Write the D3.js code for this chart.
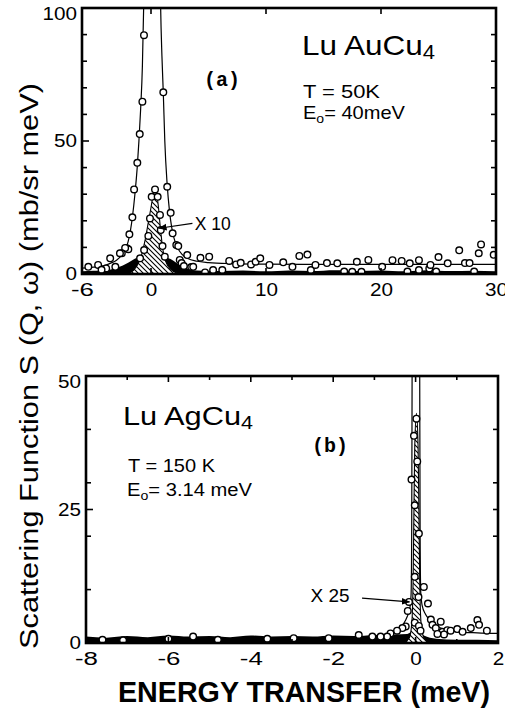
<!DOCTYPE html>
<html>
<head>
<meta charset="utf-8">
<script src="https://cdn.jsdelivr.net/npm/d3@7"></script>
<style>
  body { margin: 0; background: #fff; }
  svg { display: block; }
</style>
</head>
<body>
<script>
// ---------- Panel (a): LuAuCu4, T = 50 K, E0 = 40 meV ----------
const aXTicks = [-6, 0, 10, 20, 30];
const aYTicks = [0, 50, 100];

// measured S(Q,w), open circles
const aData = [
  [-0.61, 89.8], [-0.75, 64.8], [-0.98, 52.6], [-1.19, 41.8], [-1.47, 31.8],
  [-1.62, 21.3], [-1.88, 14.9], [-2.1, 9.7], [-1.97, 9.3], [-2.25, 9.8],
  [-2.54, 7.8], [-2.7, 7.8], [-3.1, 2.7], [-3.55, 5.9], [-3.9, 2.1], [-4.6, 3.4],
  [-5.45, 2.7], [-4.3, 1.6],
  [1.07, 68.3], [1.41, 32.8], [1.71, 23.0], [1.88, 15.3], [2.2, 10.9],
  [2.37, 10.5], [2.5, 5.3], [2.66, 4.1], [2.86, 3.0], [3.15, 7.1], [3.5, 2.6],
  [3.67, 2.7], [4.3, 6.1], [5.06, 6.5],
  [4.7, 0.6], [5.4, 1.5], [6.2, 1.5], [6.8, 4.9], [7.4, 3.6], [7.8, 4.2],
  [8.7, 3.6], [9.1, 4.6], [9.5, 5.9], [10.3, 3.4], [11.5, 4.4], [12.3, 2.7],
  [12.9, 6.8], [13.6, 7.3], [13.9, 1.5], [14.3, 3.4], [15.3, 4.1], [16.2, 4.0],
  [16.8, 0.9], [17.5, 0.8], [17.9, 4.6], [18.3, 0.8], [18.9, 5.3], [20.1, 2.7],
  [21.0, 5.2], [21.8, 4.9], [22.3, 0.9], [22.5, 4.0], [23.3, 5.2], [23.3, 1.5],
  [24.2, 2.1], [24.3, 3.4], [24.8, 0.9], [25.0, 6.4], [25.8, 4.0], [26.8, 8.9],
  [27.3, 4.1], [27.7, 4.1], [28.1, 0.9], [28.5, 7.8], [28.7, 11.1], [29.8, 7.2]
];

// circles on the quasielastic (x10) peak
const aQuasiData = [
  [0.35, 31.8], [0.06, 29.0], [0.58, 29.0], [-0.09, 20.9], [0.78, 22.2],
  [-0.23, 14.3], [0.85, 16.5], [-0.6, 9.0], [1.0, 10.5], [-0.95, 5.9], [1.2, 6.5]
];

// fitted total line
const aFit = [
  [-6, 2.2], [-5, 2.6], [-4, 3.3], [-3.5, 4.1], [-3, 5.2], [-2.6, 6.8],
  [-2.3, 8.8], [-2.0, 12], [-1.8, 16], [-1.6, 22], [-1.4, 30], [-1.2, 40],
  [-1.05, 50], [-0.9, 62], [-0.75, 78], [-0.64, 100], [-0.5, 140], [-0.2, 250],
  [0.1, 300], [0.45, 250], [0.72, 140], [0.84, 100], [0.95, 82], [1.07, 68],
  [1.2, 50], [1.4, 34], [1.6, 24], [1.8, 17.5], [2.0, 13.5], [2.3, 10],
  [2.7, 7.4], [3.2, 5.8], [4, 4.8], [5, 4.3], [7, 3.9], [10, 3.7], [15, 3.6],
  [22, 3.6], [30, 3.6]
];

// quasielastic component (hatched)
const aQuasi = [
  [-2.0, 0], [-1.5, 1.5], [-1.1, 4], [-0.8, 7.5], [-0.5, 13], [-0.25, 19],
  [0.0, 25], [0.2, 30], [0.35, 31.5], [0.5, 30], [0.65, 25], [0.8, 18],
  [0.95, 12], [1.1, 7.5], [1.35, 4], [1.7, 1.8], [2.2, 0.5], [3, 0]
];

// broad component (solid black)
const aBroad = [
  [-6, 1.0], [-5, 1.2], [-4.2, 1.3], [-3.5, 1.7], [-2.8, 2.6], [-2.2, 3.8],
  [-1.7, 5.0], [-1.2, 6.2], [-0.6, 6.8], [0, 7.0], [0.6, 6.8], [1.2, 6.4],
  [1.7, 5.6], [2.2, 4.2], [2.7, 2.8], [3.3, 1.8], [4, 1.3], [6, 1.1],
  [8, 1.3], [10, 1.0], [12, 1.3], [14, 1.1], [16, 1.4], [18, 1.1], [20, 1.3],
  [22, 1.0], [24, 1.4], [26, 1.1], [28, 1.2], [30, 1.0]
];

// ---------- Panel (b): LuAgCu4, T = 150 K, E0 = 3.14 meV ----------
const bXTicks = [-8, -6, -4, -2, 0, 2];
const bYTicks = [0, 25, 50];

const bData = [
  [0.02, 42], [-0.04, 38.8], [0.04, 34], [-0.1, 30.6], [-0.02, 25.8],
  [0.08, 20.5], [-0.02, 12.4], [0.2, 10.5], [0.07, 8.6], [-0.16, 7.7],
  [-0.19, 6.0], [0.3, 7.4], [0.37, 4.4], [-0.02, 3.8], [0.08, 3.2], [0.12, 2.3],
  [-0.24, 3.1], [-0.32, 2.8], [-0.45, 2.3], [0.41, 3.4], [0.61, 4.0],
  [0.49, 2.8], [0.65, 2.1], [0.77, 2.4], [0.85, 2.3], [1.01, 2.6], [1.14, 2.1],
  [1.34, 2.8], [1.5, 4.3], [1.54, 3.4], [1.73, 2.3], [0.69, 1.6], [0.53, 1.7],
  [-0.61, 1.8], [-0.69, 1.2], [-0.85, 1.2], [-1.05, 1.2], [-1.38, 1.5],
  [-2.11, 0.9], [-2.96, 0.9], [-3.6, 0.8], [-4.8, 0.6], [-5.4, 1.2],
  [-6.0, 0.8], [-7.1, 0.5], [-7.6, 0.6]
];

// fitted total line
const bFit = [
  [-8, 0.6], [-6, 0.7], [-4, 0.8], [-2, 0.9], [-1.2, 1.1], [-0.8, 1.3],
  [-0.6, 1.6], [-0.45, 2.4], [-0.3, 3.5], [-0.2, 5], [-0.14, 6.5],
  [-0.11, 9], [-0.095, 20], [-0.085, 50], [-0.06, 120], [0.01, 200],
  [0.08, 120], [0.1, 50], [0.11, 20], [0.125, 9.5], [0.16, 7], [0.24, 5.4],
  [0.35, 4.3], [0.5, 3.3], [0.7, 2.5], [1.0, 2.1], [1.5, 1.9], [2, 1.8]
];

// quasielastic component (hatched)
const bQuasi = [
  [-0.3, 0], [-0.15, 1], [-0.09, 4], [-0.06, 12], [-0.04, 25], [-0.02, 37],
  [0.02, 43], [0.06, 37], [0.08, 25], [0.1, 12], [0.13, 4], [0.2, 1], [0.35, 0]
];

// broad component (solid black)
const bBroad = [
  [-8, 1.2], [-7.5, 1.0], [-7, 1.3], [-6.5, 1.1], [-6, 1.4], [-5.5, 1.2],
  [-5, 1.3], [-4.5, 1.1], [-4, 1.4], [-3.5, 1.2], [-3, 1.3], [-2.5, 1.2],
  [-2, 1.4], [-1.5, 1.3], [-1, 1.5], [-0.5, 1.6], [-0.2, 1.7], [0, 2.6],
  [0.2, 1.4], [0.5, 0.8], [1, 0.6], [1.5, 0.6], [2, 0.5]
];

// ---------- drawing ----------
const W = 505, H = 710;
const svg = d3.select("body").append("svg").attr("width", W).attr("height", H);
const FONT = "'Liberation Sans', Arial, Helvetica, sans-serif";

const defs = svg.append("defs");
const pat = defs.append("pattern").attr("id", "hatch")
  .attr("patternUnits", "userSpaceOnUse").attr("width", 5).attr("height", 5);
pat.append("rect").attr("width", 5).attr("height", 5).attr("fill", "#fff");
pat.append("path").attr("d", "M-1,-1 L6,6 M-1,4 L1,6 M4,-1 L6,1")
  .attr("stroke", "#000").attr("stroke-width", 1.1);

defs.append("marker").attr("id", "arrow").attr("viewBox", "0 0 10 10")
  .attr("refX", 9).attr("refY", 5).attr("markerWidth", 7).attr("markerHeight", 7)
  .attr("orient", "auto-start-reverse")
  .append("path").attr("d", "M0,1 L10,5 L0,9 Z").attr("fill", "#000");

function label(g, x, y, parts, size, length, opts = {}) {
  const t = g.append("text").attr("x", x).attr("y", y)
    .attr("font-family", opts.family || FONT)
    .attr("font-size", size)
    .attr("font-weight", opts.weight || "normal")
    .attr("text-anchor", opts.anchor || "start")
    .attr("fill", "#000");
  parts.forEach(p => {
    const s = t.append("tspan").text(p.t);
    if (p.sub) s.attr("font-size", size * 0.7).attr("dy", p.dy);
    if (p.back) s.attr("dy", p.back);
  });
  if (length) t.attr("textLength", length).attr("lengthAdjust", "spacingAndGlyphs");
  return t;
}

function panel(cfg) {
  const x = d3.scaleLinear().domain(cfg.xDomain).range(cfg.xRange);
  const y = d3.scaleLinear().domain(cfg.yDomain).range(cfg.yRange);
  const g = svg.append("g");
  const [x0, x1] = cfg.xRange, [y0, y1] = cfg.yRange; // y0 bottom, y1 top

  const clipId = "clip-" + cfg.id;
  defs.append("clipPath").attr("id", clipId).append("rect")
    .attr("x", x0).attr("y", y1).attr("width", x1 - x0).attr("height", y0 - y1);
  const plot = g.append("g").attr("clip-path", `url(#${clipId})`);

  const area = d3.area().x(d => x(d[0])).y0(y(0)).y1(d => y(d[1])).curve(d3.curveMonotoneX);
  const line = d3.line().x(d => x(d[0])).y(d => y(d[1])).curve(d3.curveMonotoneX);

  plot.append("path").datum(cfg.broad).attr("d", area).attr("fill", "#000");
  plot.append("path").datum(cfg.quasi).attr("d", area)
    .attr("fill", "url(#hatch)").attr("stroke", "#000").attr("stroke-width", 1.1);
  plot.append("path").datum(cfg.fit).attr("d", line)
    .attr("fill", "none").attr("stroke", "#000").attr("stroke-width", 1.2);

  const pts = cfg.data.concat(cfg.extra || []);
  plot.selectAll("circle.d").data(pts).enter().append("circle")
    .attr("cx", d => x(d[0])).attr("cy", d => y(d[1])).attr("r", 3.3)
    .attr("fill", "#fff").attr("stroke", "#000").attr("stroke-width", 1.4);

  // axes with inward ticks on all sides
  const axes = g.append("g").attr("stroke", "#000");
  const tick = (x1_, y1_, x2_, y2_) => axes.append("line")
    .attr("x1", x1_).attr("y1", y1_).attr("x2", x2_).attr("y2", y2_).attr("stroke-width", 1.6);
  cfg.xMinor.forEach(v => {
    const L = cfg.xMajor.includes(v) ? 6 : 4;
    tick(x(v), y1, x(v), y1 + L);
    tick(x(v), y0, x(v), y0 - L);
  });
  cfg.yMinor.forEach(v => {
    const L = cfg.yMajor.includes(v) ? 7 : 5;
    tick(x0, y(v), x0 + L, y(v));
    tick(x1, y(v), x1 - 5, y(v));
  });
  g.append("rect").attr("x", x0).attr("y", y1).attr("width", x1 - x0).attr("height", y0 - y1)
    .attr("fill", "none").attr("stroke", "#000").attr("stroke-width", 2.6);

  // tick labels from d3 axes
  const bottom = d3.axisBottom(x).tickValues(cfg.xTicks).tickSize(0).tickPadding(0).tickFormat(d3.format("d"));
  const gb = g.append("g").attr("transform", `translate(0,${y0 + 9})`).call(bottom);
  gb.select(".domain").remove();
  gb.selectAll("text").attr("font-family", FONT).attr("font-size", 18).attr("fill", "#000")
    .attr("dy", "0.72em").attr("textLength", d => String(d).length * 11.5)
    .attr("lengthAdjust", "spacingAndGlyphs").text(d => String(d).replace("\u2212", "-"));
  const left = d3.axisLeft(y).tickValues(cfg.yTicks).tickSize(0).tickPadding(0).tickFormat(d3.format("d"));
  const gl = g.append("g").attr("transform", `translate(${x0 - 5},0)`).call(left);
  gl.select(".domain").remove();
  gl.selectAll("text").attr("font-family", FONT).attr("font-size", 18).attr("fill", "#000")
    .attr("textLength", d => String(d).length * 11.5).attr("lengthAdjust", "spacingAndGlyphs")
    .attr("dy", d => (y(d) - y1 < 8 ? "0.62em" : "0.32em"));

  return { g, x, y };
}

// panel (a)
const A = panel({
  id: "a", xDomain: [-6, 30], xRange: [82, 496], yDomain: [0, 100], yRange: [274, 8],
  xTicks: aXTicks, yTicks: aYTicks,
  xMinor: [0, 10, 20], xMajor: [0, 10, 20],
  yMinor: [10, 20, 30, 40, 50, 60, 70, 80, 90], yMajor: [50],
  data: aData, extra: aQuasiData, fit: aFit, quasi: aQuasi, broad: aBroad
});
label(A.g, 302, 55, [{t: "Lu AuCu"}, {t: "4", sub: true, dy: 4}], 28, 133);
label(A.g, 303, 98, [{t: "T = 50K"}], 19, 77);
label(A.g, 303, 119, [{t: "E"}, {t: "o", sub: true, dy: 4}, {t: "= 40meV", back: -4}], 19, 102);
label(A.g, 222, 86, [{t: "(a)"}], 20, 36, {family: "'Liberation Mono', 'DejaVu Sans Mono', monospace", weight: "bold", anchor: "middle"});
label(A.g, A.x(3.8), A.y(16.5), [{t: "X 10"}], 19, 36);
A.g.append("line").attr("x1", A.x(3.6)).attr("y1", A.y(19)).attr("x2", A.x(0.7)).attr("y2", A.y(17.2))
  .attr("stroke", "#000").attr("stroke-width", 1.2).attr("marker-end", "url(#arrow)");

// panel (b)
const B = panel({
  id: "b", xDomain: [-8, 2], xRange: [86, 498], yDomain: [0, 50], yRange: [643, 376],
  xTicks: bXTicks, yTicks: bYTicks,
  xMinor: [-7, -6, -5, -4, -3, -2, -1, 0, 1], xMajor: [-6, -4, -2, 0],
  yMinor: [10, 20, 25, 30, 40], yMajor: [25],
  data: bData, fit: bFit, quasi: bQuasi, broad: bBroad
});
label(B.g, 123, 425, [{t: "Lu AgCu"}, {t: "4", sub: true, dy: 4}], 26, 130);
label(B.g, 128, 472, [{t: "T = 150 K"}], 18, 87);
label(B.g, 127, 496, [{t: "E"}, {t: "o", sub: true, dy: 4}, {t: "= 3.14 meV", back: -4}], 18, 125);
label(B.g, 330, 452, [{t: "(b)"}], 20, 36, {family: "'Liberation Mono', 'DejaVu Sans Mono', monospace", weight: "bold", anchor: "middle"});
label(B.g, B.x(-2.55), B.y(7.6), [{t: "X 25"}], 18, 39);
B.g.append("line").attr("x1", B.x(-1.3)).attr("y1", B.y(8.4)).attr("x2", B.x(-0.15)).attr("y2", B.y(7.7))
  .attr("stroke", "#000").attr("stroke-width", 1.2).attr("marker-end", "url(#arrow)");

// shared axis titles
svg.append("text").attr("transform", "translate(38,366) rotate(-90)")
  .attr("text-anchor", "middle").attr("font-family", FONT).attr("font-size", 25)
  .attr("textLength", 566).attr("lengthAdjust", "spacingAndGlyphs")
  .text("Scattering Function S (Q, \u03c9) (mb/sr  meV)");
svg.append("text").attr("x", 304).attr("y", 702)
  .attr("text-anchor", "middle").attr("font-family", FONT).attr("font-size", 29)
  .attr("font-weight", "bold").attr("textLength", 372).attr("lengthAdjust", "spacingAndGlyphs")
  .text("ENERGY TRANSFER (meV)");
</script>
</body>
</html>
